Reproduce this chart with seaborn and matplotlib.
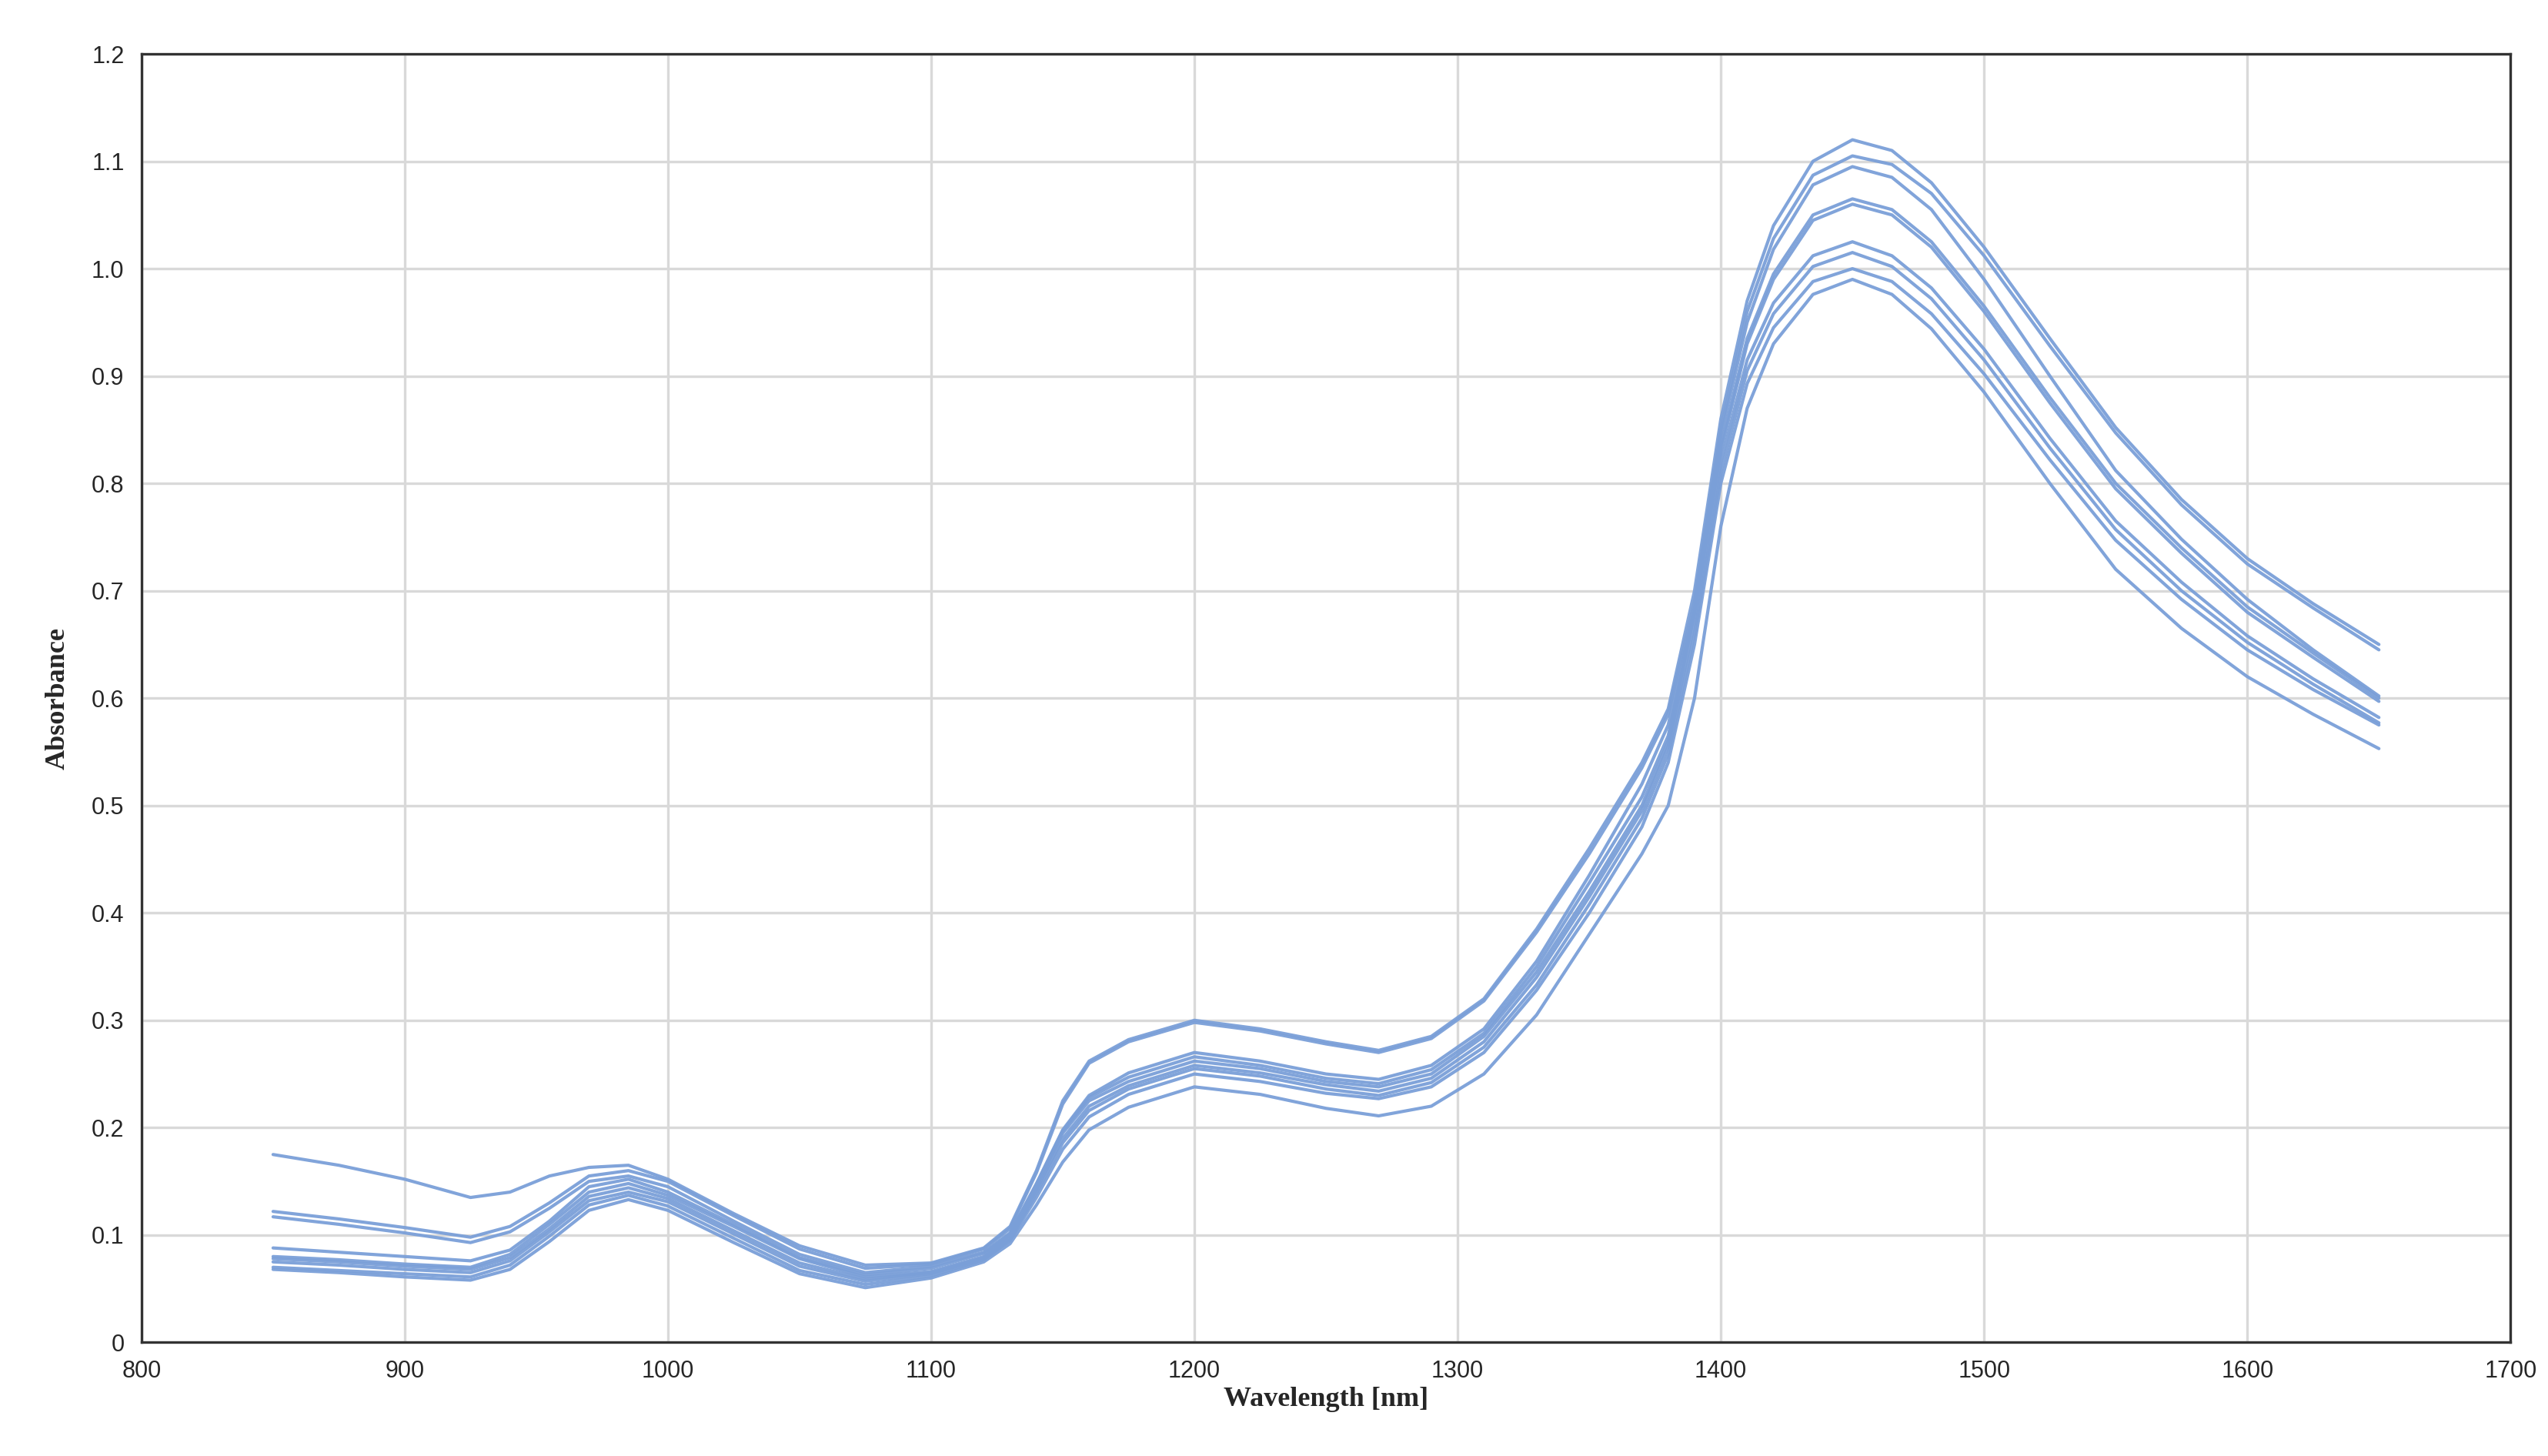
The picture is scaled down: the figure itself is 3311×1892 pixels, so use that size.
import numpy as np
import matplotlib
matplotlib.use("Agg")
import matplotlib.pyplot as plt
import seaborn as sns

wavelength = [850, 875, 900, 925, 940, 955, 970, 985, 1000, 1025, 1050, 1075, 1100, 1120, 1130,
              1140, 1150, 1160, 1175, 1200, 1225, 1250, 1270, 1290, 1310, 1330, 1350, 1370, 1380,
              1390, 1400, 1410, 1420, 1435, 1450, 1465, 1480, 1500, 1525, 1550, 1575, 1600, 1625, 1650]

s1 = [.175, .165, .152, .135, .140, .155, .163, .165, .152, .120, .090, .072, .074, .088, .108,
      .160, .225, .262, .282, .300, .292, .280, .272, .285, .320, .385, .460, .540, .590,
      .700, .860, .970, 1.040, 1.100, 1.120, 1.110, 1.080, 1.020, .935, .852, .785, .730, .688, .650]
s2 = [.122, .115, .107, .098, .108, .130, .155, .160, .150, .118, .087, .069, .073, .087, .106,
      .158, .222, .260, .280, .298, .290, .278, .270, .283, .318, .382, .455, .535, .585,
      .690, .850, .960, 1.028, 1.087, 1.105, 1.097, 1.070, 1.012, .928, .847, .780, .725, .684, .645]
s3 = [.117, .110, .102, .093, .103, .125, .150, .155, .145, .113, .082, .065, .071, .084, .102,
      .148, .198, .230, .251, .270, .262, .250, .245, .258, .292, .355, .435, .520, .575,
      .685, .845, .950, 1.018, 1.078, 1.095, 1.085, 1.055, .990, .900, .812, .748, .692, .645, .602]
s4 = [.088, .084, .080, .076, .086, .113, .145, .152, .140, .110, .079, .063, .069, .083, .101,
      .147, .197, .228, .247, .266, .258, .246, .241, .254, .288, .350, .428, .508, .565,
      .680, .835, .935, .995, 1.050, 1.065, 1.055, 1.025, .965, .880, .800, .740, .685, .642, .600]
s5 = [.080, .077, .073, .070, .082, .110, .140, .148, .137, .108, .078, .061, .066, .080, .100,
      .145, .195, .225, .243, .262, .255, .243, .238, .250, .285, .345, .420, .500, .560,
      .680, .830, .930, .990, 1.045, 1.060, 1.050, 1.020, .960, .875, .795, .735, .680, .638, .597]
s6 = [.078, .075, .071, .068, .079, .106, .136, .144, .134, .104, .074, .059, .065, .079, .098,
      .142, .190, .220, .239, .258, .251, .240, .234, .246, .280, .340, .415, .495, .555,
      .670, .820, .915, .968, 1.012, 1.025, 1.012, .982, .925, .842, .765, .708, .658, .618, .582]
s7 = [.075, .072, .068, .065, .076, .103, .132, .140, .131, .101, .071, .057, .064, .078, .096,
      .139, .186, .216, .236, .255, .248, .236, .230, .242, .275, .333, .408, .488, .548,
      .660, .810, .905, .958, 1.002, 1.015, 1.002, .972, .915, .833, .757, .700, .652, .613, .577]
s8 = [.070, .067, .064, .061, .072, .099, .128, .137, .127, .097, .067, .054, .062, .077, .095,
      .135, .180, .210, .231, .250, .243, .232, .227, .238, .270, .328, .400, .480, .540,
      .650, .800, .893, .945, .988, 1.000, .988, .958, .902, .822, .747, .692, .645, .608, .575]
s9 = [.068, .065, .061, .058, .068, .094, .123, .133, .123, .093, .064, .051, .060, .075, .092,
      .128, .168, .198, .219, .238, .231, .218, .211, .220, .250, .305, .380, .455, .500,
      .600, .760, .870, .930, .976, .990, .976, .944, .885, .800, .720, .665, .620, .585, .553]
spectra = [s1, s2, s3, s4, s5, s6, s7, s8, s9]

sns.set_style("white")
fig = plt.figure(figsize=(16.56, 9.46), dpi=200)
ax = fig.add_axes([0.0555, 0.078, 0.9295, 0.885])

for s in spectra:
    sns.lineplot(x=wavelength, y=s, ax=ax, color="#7a9fd8", linewidth=1.5, alpha=0.95)

ax.set_xlim(800, 1700)
ax.set_ylim(0, 1.2)
ax.set_xticks(range(800, 1701, 100))
ax.set_yticks(np.arange(0, 1.21, 0.1))
ax.set_yticklabels(["0"] + [f"{v:.1f}" for v in np.arange(0.1, 1.21, 0.1)])
ax.grid(True, color="#d9d9d9", linewidth=1.2)
for sp in ax.spines.values():
    sp.set_color("#333333")
    sp.set_linewidth(1.2)
ax.tick_params(axis="both", length=0, labelsize=11, pad=8)
for lab in ax.get_xticklabels() + ax.get_yticklabels():
    lab.set_family("Liberation Sans")
ax.set_xlabel("Wavelength [nm]", family="Liberation Serif", fontweight="bold", fontsize=13, labelpad=2)
ax.set_ylabel("Absorbance", family="Liberation Serif", fontweight="bold", fontsize=13, labelpad=10)

fig.savefig("out.png", dpi=200, facecolor="white")
